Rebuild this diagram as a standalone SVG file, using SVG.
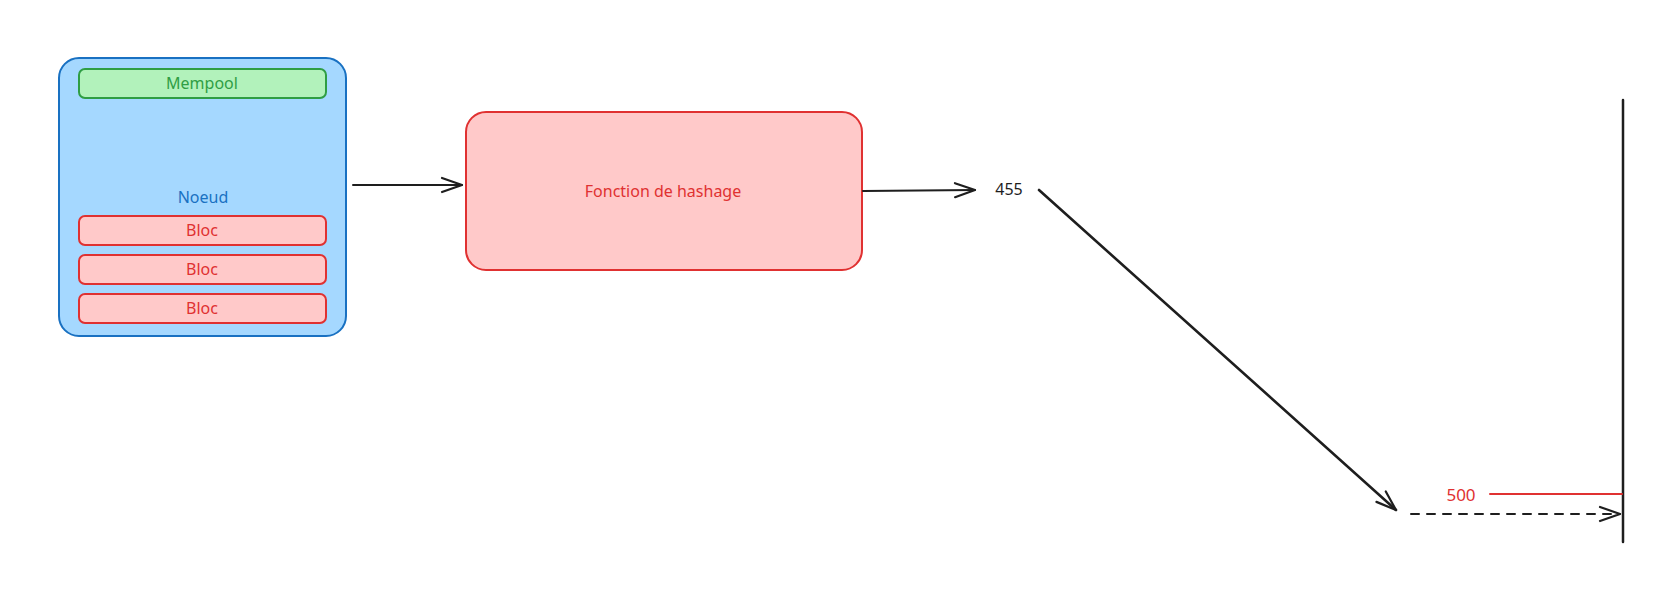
<svg xmlns="http://www.w3.org/2000/svg" width="1669" height="594" viewBox="0 0 1669 594">
  <style>
    text { font-family: "Noto Sans", "Liberation Sans", sans-serif; font-size: 16px; text-anchor: middle; }
    .blue { fill: #a5d8ff; stroke: #1971c2; stroke-width: 2; }
    .green { fill: #b2f2bb; stroke: #2f9e44; stroke-width: 2; }
    .red { fill: #ffc9c9; stroke: #e03131; stroke-width: 2; }
    .t-blue { fill: #1971c2; }
    .t-green { fill: #2f9e44; }
    .t-red { fill: #e03131; }
    .t-dark { fill: #1e1e1e; }
    .wire { fill: none; stroke: #1e1e1e; stroke-width: 2; stroke-linecap: round; }
    .thick { stroke-width: 2.6; }
    .dash { stroke-dasharray: 8 8; }
  </style>
  <defs>
    <marker id="arrow" viewBox="0 0 24 20" markerWidth="24" markerHeight="20" refX="22" refY="10" orient="auto" markerUnits="userSpaceOnUse">
      <path d="M2 3 L22 10 L2 17" fill="none" stroke="#1e1e1e" stroke-width="2.2" stroke-linecap="round" stroke-linejoin="round"/>
    </marker>
  </defs>
  <rect width="1669" height="594" fill="#ffffff"/>

  <!-- Node with mempool and chain of blocks -->
  <g id="noeud">
    <rect class="blue" x="59" y="58" width="287" height="278" rx="20"/>
    <text class="t-blue" x="203" y="203">Noeud</text>
  </g>
  <g id="mempool">
    <rect class="green" x="79" y="69" width="247" height="29" rx="6"/>
    <text class="t-green" x="202" y="89">Mempool</text>
  </g>
  <g id="bloc-1">
    <rect class="red" x="79" y="216" width="247" height="29" rx="6"/>
    <text class="t-red" x="202" y="236">Bloc</text>
  </g>
  <g id="bloc-2">
    <rect class="red" x="79" y="255" width="247" height="29" rx="6"/>
    <text class="t-red" x="202" y="275">Bloc</text>
  </g>
  <g id="bloc-3">
    <rect class="red" x="79" y="294" width="247" height="29" rx="6"/>
    <text class="t-red" x="202" y="314">Bloc</text>
  </g>

  <!-- Hash function -->
  <g id="hash">
    <rect class="red" x="466" y="112" width="396" height="158" rx="20"/>
    <text class="t-red" x="663" y="197">Fonction de hashage</text>
  </g>

  <!-- Output value -->
  <g id="value-455">
    <text class="t-dark" x="1009" y="195">455</text>
  </g>

  <!-- Target threshold -->
  <g id="target">
    <line x1="1623" y1="100" x2="1623" y2="542" stroke="#1e1e1e" stroke-width="2.5" stroke-linecap="round"/>
    <line x1="1490" y1="494" x2="1622" y2="494" stroke="#e03131" stroke-width="2" stroke-linecap="round"/>
    <text class="t-red" x="1461" y="501" style="font-size:17px">500</text>
  </g>

  <!-- Connectors -->
  <g id="connectors">
    <line class="wire" x1="353" y1="185" x2="462" y2="185" marker-end="url(#arrow)"/>
    <line class="wire" x1="863" y1="191" x2="975" y2="190" marker-end="url(#arrow)"/>
    <line class="wire thick" x1="1039" y1="190" x2="1396" y2="510" marker-end="url(#arrow)"/>
    <line class="wire dash" x1="1411" y1="514" x2="1620" y2="514" marker-end="url(#arrow)"/>
  </g>
</svg>
